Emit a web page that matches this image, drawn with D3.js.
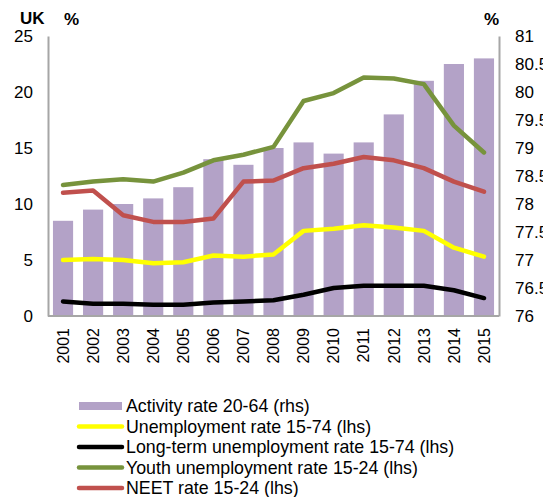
<!DOCTYPE html>
<html>
<head>
<meta charset="utf-8">
<script src="https://cdn.jsdelivr.net/npm/d3@7"></script>
<style>
  body { margin: 0; background: #fff; }
  svg { font-family: "Liberation Sans", Arial, sans-serif; }
</style>
</head>
<body>
<svg id="chart" width="543" height="497"></svg>
<script>
// data
var years = ['2001','2002','2003','2004','2005','2006','2007','2008','2009','2010','2011','2012','2013','2014','2015'];
var activityRate = [77.7, 77.9, 78.0, 78.1, 78.3, 78.8, 78.7, 79.0, 79.1, 78.9, 79.1, 79.6, 80.2, 80.5, 80.6];
var unemployment = [5.0, 5.1, 5.0, 4.7, 4.8, 5.4, 5.3, 5.5, 7.6, 7.8, 8.1, 7.9, 7.6, 6.1, 5.3];
var longTerm = [1.3, 1.1, 1.1, 1.0, 1.0, 1.2, 1.3, 1.4, 1.9, 2.5, 2.7, 2.7, 2.7, 2.3, 1.6];
var youth = [11.7, 12.0, 12.2, 12.0, 12.8, 13.9, 14.4, 15.1, 19.2, 19.9, 21.3, 21.2, 20.7, 17.0, 14.6];
var neet = [11.0, 11.2, 9.0, 8.4, 8.4, 8.7, 12.0, 12.1, 13.2, 13.6, 14.2, 13.9, 13.2, 12.0, 11.1];
var leftTicks = [0, 5, 10, 15, 20, 25];
var rightTicks = [76, 76.5, 77, 77.5, 78, 78.5, 79, 79.5, 80, 80.5, 81];

var lineSeries = [
    {name: 'Unemployment rate 15-74 (lhs)', values: unemployment, color: '#ffff00'},
    {name: 'Long-term unemployment rate 15-74 (lhs)', values: longTerm, color: '#000000'},
    {name: 'Youth unemployment rate 15-24 (lhs)', values: youth, color: '#77933c'},
    {name: 'NEET rate 15-24 (lhs)', values: neet, color: '#c0504d'}
];
var barColor = '#b3a2c7';

var svg = d3.select('#chart');
var plot = {left: 48, right: 499, top: 36, bottom: 316};

var x = d3.scaleBand().domain(years).range([plot.left, plot.right]).paddingInner(0.33).paddingOuter(0.165);
var yL = d3.scaleLinear().domain([0, 25]).range([plot.bottom, plot.top]);
var yR = d3.scaleLinear().domain([76, 81]).range([plot.bottom, plot.top]);

// bars (rhs)
svg.append('g').selectAll('rect')
    .data(activityRate)
    .enter().append('rect')
    .attr('x', function(d, i) { return x(years[i]); })
    .attr('width', x.bandwidth())
    .attr('y', function(d) { return yR(d); })
    .attr('height', function(d) { return yR(76) - yR(d); })
    .style('fill', barColor);

// axes
var leftAxis = svg.append('g')
    .attr('transform', 'translate(' + plot.left + ',0)')
    .call(d3.axisLeft(yL).tickValues(leftTicks).tickSize(0).tickPadding(15));
var rightAxis = svg.append('g')
    .attr('transform', 'translate(' + plot.right + ',0)')
    .call(d3.axisRight(yR).tickValues(rightTicks).tickSize(0).tickPadding(16).tickFormat(d3.format('')));
var bottomAxis = svg.append('g')
    .attr('transform', 'translate(0,' + plot.bottom + ')')
    .call(d3.axisBottom(x).tickSize(0).tickPadding(0));

[leftAxis, rightAxis, bottomAxis].forEach(function(a) {
    a.select('.domain').style('stroke', '#a6a6a6').style('stroke-width', 2);
    a.selectAll('text').style('font-size', '17px').style('fill', '#000').style('font-family', '"Liberation Sans", Arial, sans-serif');
});
bottomAxis.select('.domain').attr('d', 'M' + plot.left + ',0H' + plot.right);
bottomAxis.selectAll('text')
    .style('font-size', '16px')
    .attr('transform', 'rotate(-90)')
    .attr('text-anchor', 'end')
    .attr('x', -12)
    .attr('y', 0)
    .attr('dy', '0.36em');

// lines (lhs)
var line = d3.line()
    .x(function(d, i) { return x(years[i]) + x.bandwidth() / 2; })
    .y(function(d) { return yL(d); });

svg.append('g').selectAll('path')
    .data(lineSeries)
    .enter().append('path')
    .attr('d', function(d) { return line(d.values); })
    .style('fill', 'none')
    .style('stroke', function(d) { return d.color; })
    .style('stroke-width', 4.5)
    .style('stroke-linejoin', 'round')
    .style('stroke-linecap', 'round');

// unit labels
svg.append('text').attr('x', 20).attr('y', 24).text('UK')
    .style('font-weight', 'bold').style('font-size', '17px');
svg.append('text').attr('x', 64).attr('y', 25).text('%')
    .style('font-weight', 'bold').style('font-size', '17px');
svg.append('text').attr('x', 484).attr('y', 25).text('%')
    .style('font-weight', 'bold').style('font-size', '17px');

// legend
var legendItems = [{name: 'Activity rate 20-64 (rhs)', color: barColor, bar: true}].concat(lineSeries);
var legend = svg.append('g').selectAll('g')
    .data(legendItems)
    .enter().append('g')
    .attr('transform', function(d, i) { return 'translate(0,' + (406 + i * 20.5) + ')'; });

legend.append('path')
    .attr('d', 'M79,0H122')
    .style('stroke', function(d) { return d.color; })
    .style('stroke-width', function(d) { return d.bar ? 8 : 4.5; })
    .style('stroke-linecap', function(d) { return d.bar ? 'butt' : 'round'; });

legend.append('text')
    .attr('x', 126)
    .attr('dy', '0.36em')
    .text(function(d) { return d.name; })
    .style('font-size', '17.8px');
</script>
</body>
</html>
